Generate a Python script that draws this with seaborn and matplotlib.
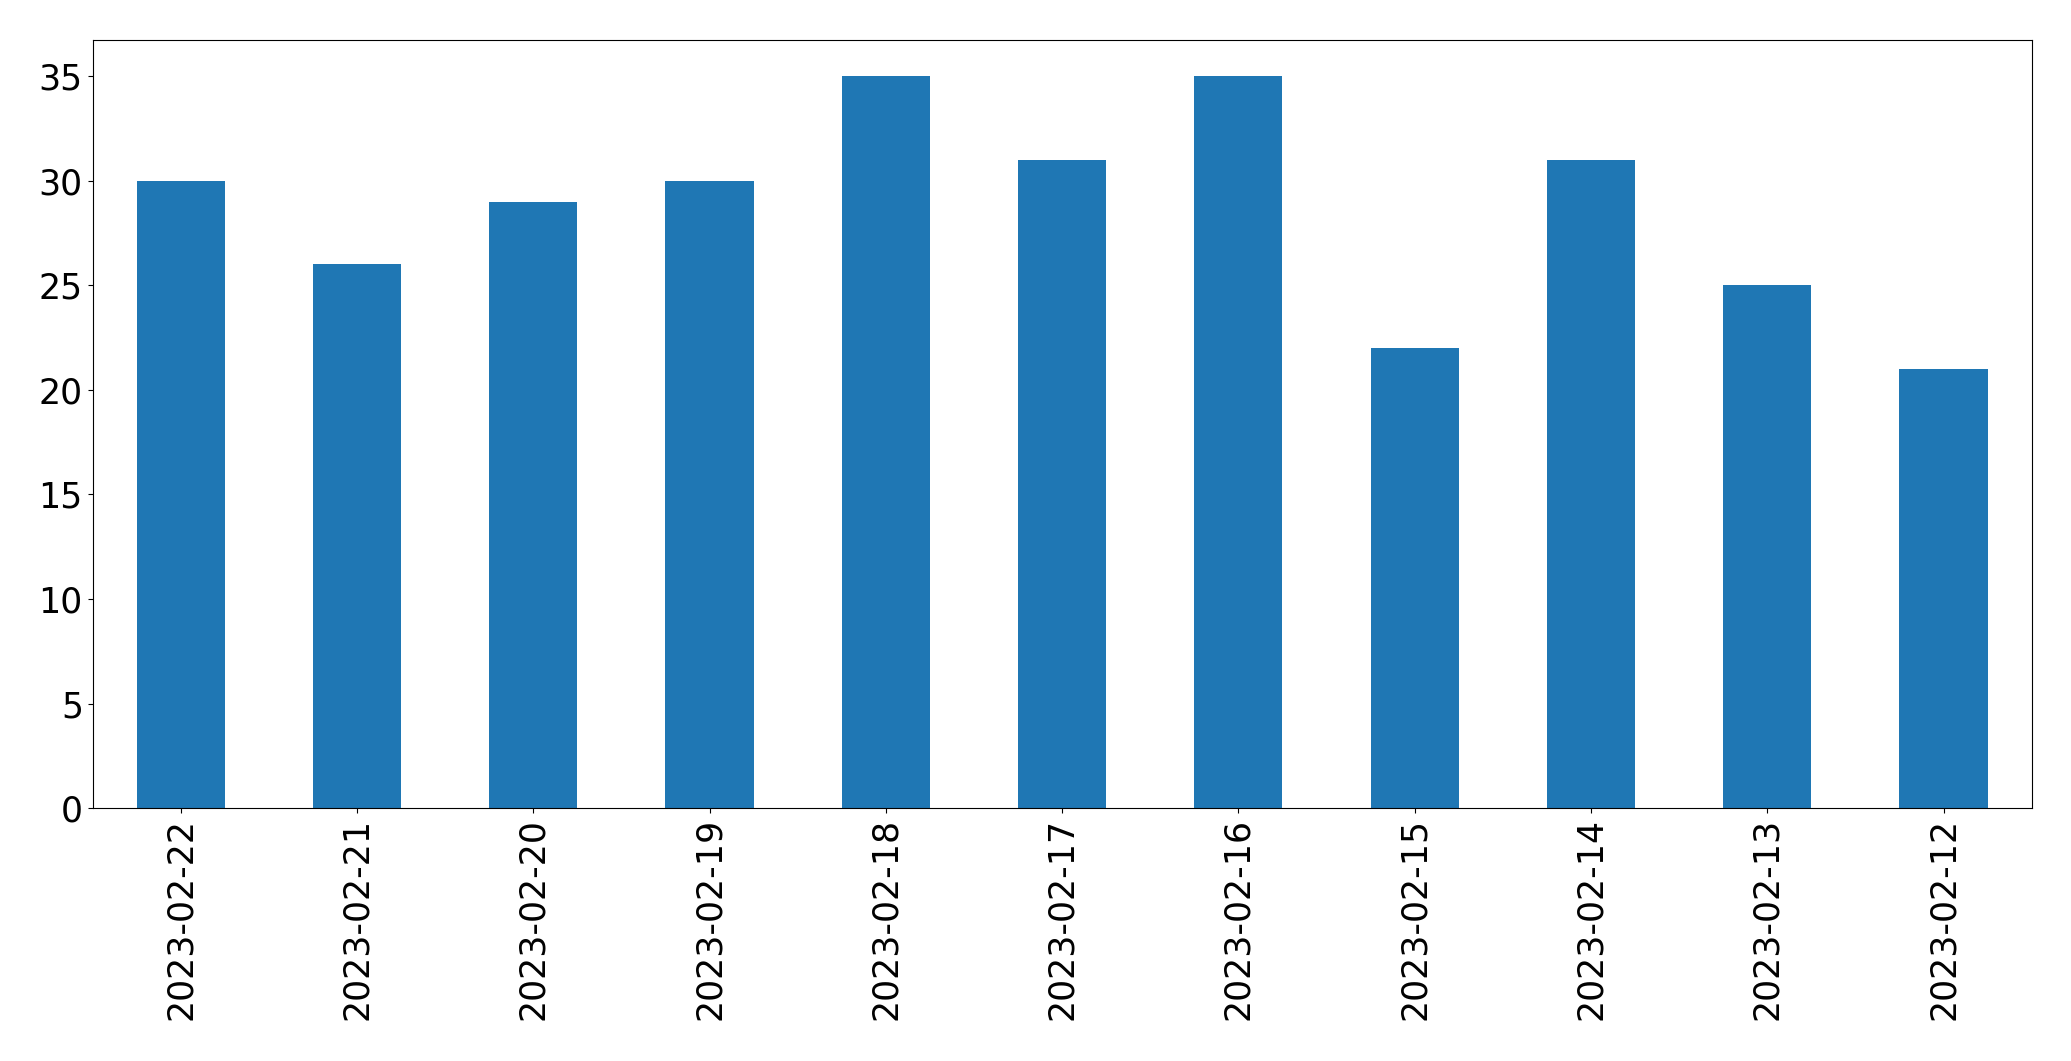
import matplotlib
matplotlib.use("Agg")
import matplotlib.pyplot as plt
import seaborn as sns
import pandas as pd

# data
dates = ["2023-02-22", "2023-02-21", "2023-02-20", "2023-02-19", "2023-02-18",
         "2023-02-17", "2023-02-16", "2023-02-15", "2023-02-14", "2023-02-13",
         "2023-02-12"]
counts = [30, 26, 29, 30, 35, 31, 35, 22, 31, 25, 21]

df = pd.DataFrame({"date": dates, "count": counts})

plt.rcParams["font.family"] = ["DejaVu Sans"]

fig, ax = plt.subplots(figsize=(20.71, 10.61), dpi=100)
sns.barplot(data=df, x="date", y="count", color="#1f77b4", saturation=1,
            width=0.5, ax=ax)

ax.set_xlabel("")
ax.set_ylabel("")
ax.set_xlim(-0.5, len(dates) - 0.5)
ax.set_ylim(0, 36.75)
ax.tick_params(axis="both", labelsize=25)
plt.setp(ax.get_xticklabels(), rotation=90)

fig.subplots_adjust(left=0.0447, right=0.981, top=0.9627, bottom=0.2383)
plt.savefig("out.png", dpi=100)
